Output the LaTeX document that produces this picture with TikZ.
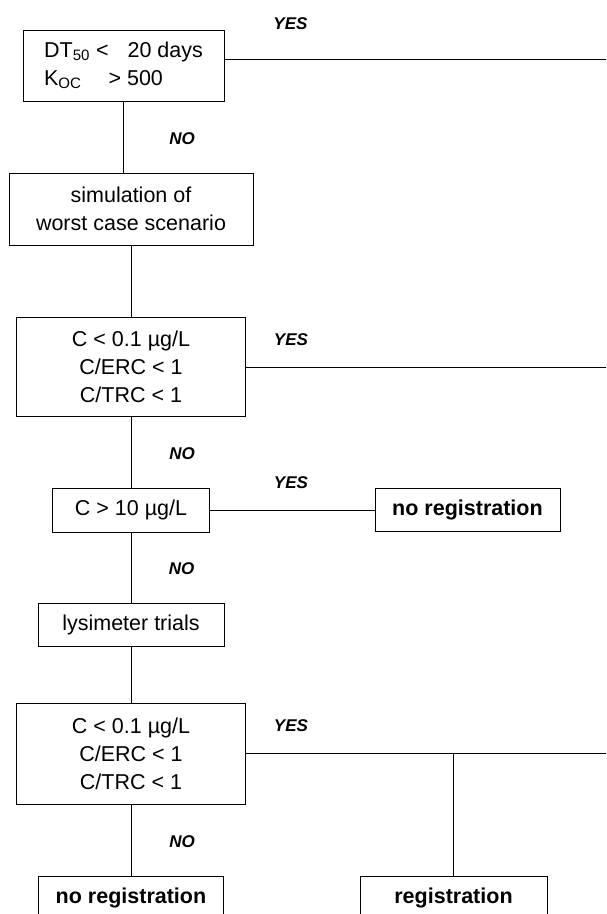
\documentclass[tikz,border=0pt]{standalone}
\usepackage{fontspec}
\setmainfont{Liberation Sans}
\begin{document}
\begin{tikzpicture}[x=1pt, y=-1pt,
  every node/.style={inner sep=0pt},
  box/.style={draw=black, line width=0.8pt, rectangle, align=center,
    font=\fontsize{21.5pt}{28pt}\selectfont},
  boldbox/.style={box, font=\fontsize{21.5pt}{28pt}\selectfont\bfseries},
  answer/.style={font=\fontsize{17pt}{20pt}\selectfont\bfseries\itshape},
  link/.style={draw=black, line width=0.8pt}]
\useasboundingbox (0,0) rectangle (606,914);

% decision and action boxes
\node[box, minimum width=201pt, minimum height=71pt, align=left] (b1) at (123.5,65.5)
  {DT\textsubscript{50} <\hspace{19pt}20 days\\K\textsubscript{OC}\hspace{27pt}> 500};
\node[box, minimum width=244pt, minimum height=72pt] (b2) at (131,209)
  {simulation of\\worst case scenario};
\node[box, minimum width=229pt, minimum height=99pt] (b3) at (131,366.5)
  {C < 0.1 µg/L\\C/ERC < 1\\C/TRC < 1};
\node[box, minimum width=157pt, minimum height=44pt] (b4) at (131,510)
  {C > 10 µg/L};
\node[boldbox, minimum width=185pt, minimum height=43pt] (b5) at (467.5,510)
  {no registration};
\node[box, minimum width=186pt, minimum height=43pt] (b6) at (131,624.5)
  {lysimeter trials};
\node[box, minimum width=229pt, minimum height=101pt] (b7) at (131,753.5)
  {C < 0.1 µg/L\\C/ERC < 1\\C/TRC < 1};
\node[boldbox, minimum width=185pt, minimum height=44pt] (b8) at (131,898)
  {no registration};
\node[boldbox, minimum width=187pt, minimum height=44pt] (b9) at (453.5,898)
  {registration};

% free ends at the right margin
\coordinate (r1) at (606,59);
\coordinate (r3) at (606,367);
\coordinate (r7) at (606,753);
\coordinate (j7) at (453.5,753);

% connectors
\draw[link] (b1.east |- r1) -- (r1);
\draw[link] (b1.south) -- (b1.south |- b2.north);
\draw[link] (b2.south) -- (b3.north);
\draw[link] (b3.east |- r3) -- (r3);
\draw[link] (b3.south) -- (b4.north);
\draw[link] (b4.east) -- (b5.west);
\draw[link] (b4.south) -- (b6.north);
\draw[link] (b6.south) -- (b7.north);
\draw[link] (b7.east |- r7) -- (r7);
\draw[link] (j7) -- (b9.north);
\draw[link] (b7.south) -- (b8.north);

% branch labels
\node[answer] (y1) at (290.5,24) {YES};
\node[answer] (n1) at (182,139) {NO};
\node[answer] (y2) at (291,340) {YES};
\node[answer] (n2) at (182,454) {NO};
\node[answer] (y3) at (291,483) {YES};
\node[answer] (n3) at (181.5,569) {NO};
\node[answer] (y4) at (291,726) {YES};
\node[answer] (n4) at (182,842) {NO};
\end{tikzpicture}
\end{document}
